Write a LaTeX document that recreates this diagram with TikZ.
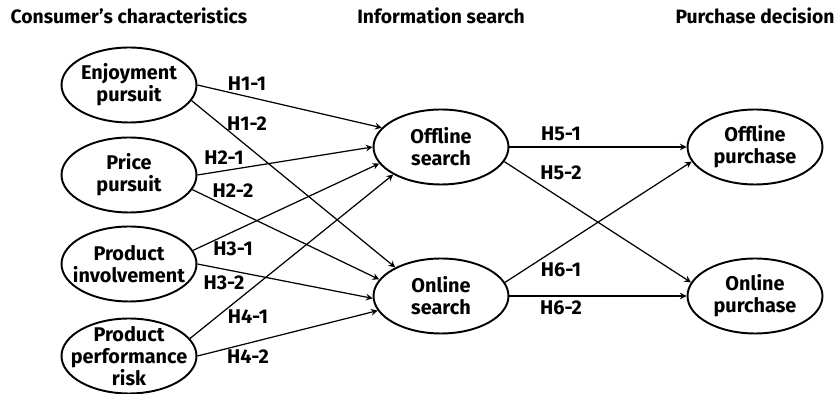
\documentclass[tikz,border=0pt]{standalone}
\usepackage{fontspec}
\setmainfont{Fira Sans}
\usepackage{tikz}
\usetikzlibrary{shapes.geometric}

\begin{document}
\begin{tikzpicture}[x=0.02cm, y=-0.02cm,
    construct/.style={ellipse, draw, line width=1.1pt, minimum width=2.7cm, minimum height=1.5cm,
        inner xsep=-8pt, inner ysep=-5pt, align=center, font=\fontsize{11.3}{12.6}\selectfont\bfseries},
    hyp/.style={font=\fontsize{11.3}{13}\selectfont\bfseries},
    coltitle/.style={font=\fontsize{11}{13}\selectfont\bfseries, anchor=base},
    arr/.style={-stealth, line width=0.7pt}]

\useasboundingbox (0,0) rectangle (836,394);

% column titles
\node[coltitle] (t1) at (129,24) {Consumer’s characteristics};
\node[coltitle] (t2) at (441,24) {Information search};
\node[coltitle] (t3) at (755,24) {Purchase decision};

% consumer's characteristics
\node[construct] (enj) at (129,85) {Enjoyment\\pursuit};
\node[construct] (price) at (129,175) {Price\\pursuit};
\node[construct] (inv) at (129,264) {Product\\involvement};
\node[construct] (risk) at (129,356) {Product\\performance\\risk};

% information search
\node[construct] (offs) at (441,147) {Offline\\search};
\node[construct] (ons) at (441,296) {Online\\search};

% purchase decision
\node[construct] (offp) at (755,147) {Offline\\purchase};
\node[construct] (onp) at (755,296) {Online\\purchase};

\draw[arr] (enj.east) -- (offs.162);
\draw[arr] (enj.346) -- (ons.148);
\draw[arr] (price.east) -- (offs.180);
\draw[arr] (price.347) -- (ons.165);
\draw[arr] (inv.12) -- (offs.195);
\draw[arr] (inv.east) -- (ons.182);
\draw[arr] (risk.16) -- (offs.210);
\draw[arr] (risk.east) -- (ons.193);

\draw[arr] (offs.east) -- (offp.west);
\draw[arr] (offs.347) -- (onp.168);
\draw[arr] (ons.12) -- (offp.193);
\draw[arr] (ons.east) -- (onp.west);

% hypotheses
\node[hyp] (h11) at (247,84) {H1-1};
\node[hyp] (h12) at (247,124) {H1-2};
\node[hyp] (h21) at (224,158) {H2-1};
\node[hyp] (h22) at (233,191) {H2-2};
\node[hyp] (h31) at (233,249) {H3-1};
\node[hyp] (h32) at (224,283) {H3-2};
\node[hyp] (h41) at (248,317) {H4-1};
\node[hyp] (h42) at (248,357) {H4-2};
\node[hyp] (h51) at (561,134) {H5-1};
\node[hyp] (h52) at (561,173) {H5-2};
\node[hyp] (h61) at (561,270) {H6-1};
\node[hyp] (h62) at (561,308) {H6-2};

\end{tikzpicture}
\end{document}
